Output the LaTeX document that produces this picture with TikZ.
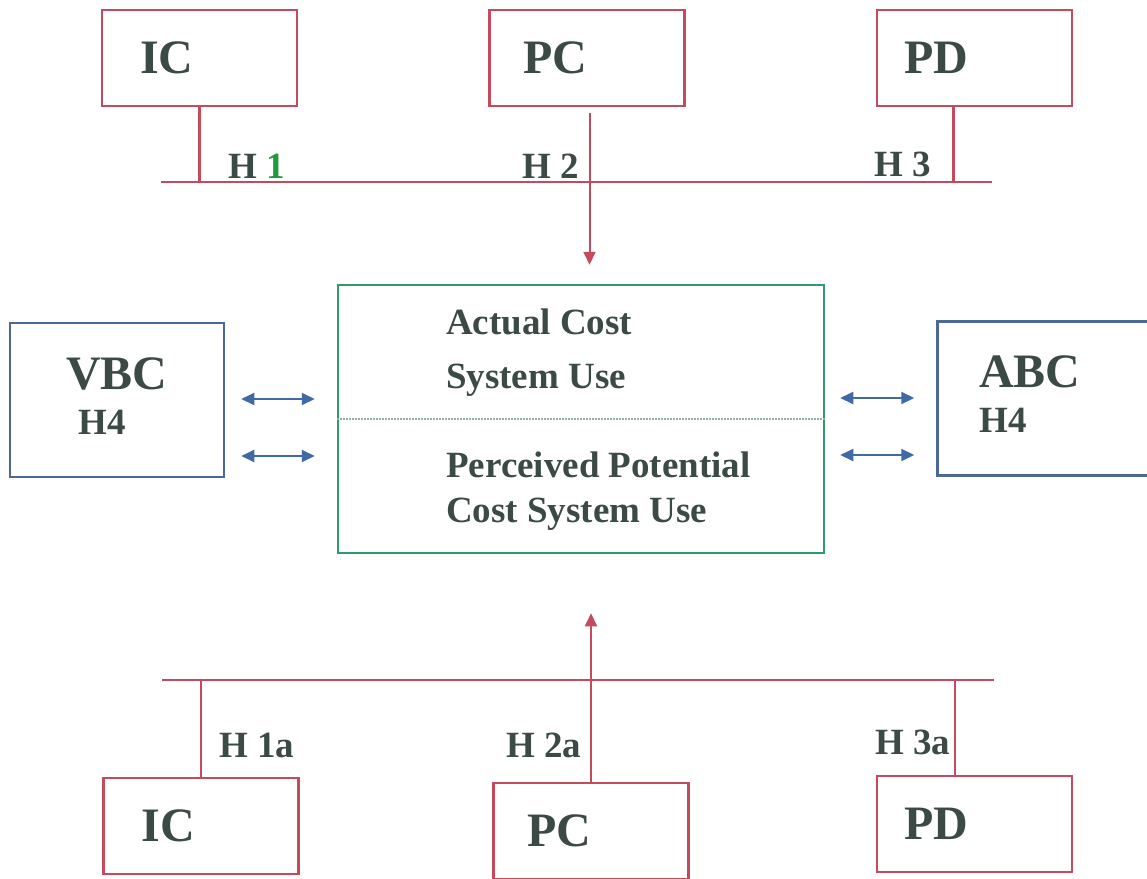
\documentclass[tikz,border=0pt]{standalone}
\usepackage{fontspec}
\setmainfont{Liberation Serif}
\usetikzlibrary{arrows.meta,positioning}
\definecolor{Rose}{HTML}{C44A5E}
\definecolor{Teal}{HTML}{2E9A6E}
\definecolor{Slate}{HTML}{4C6894}
\definecolor{Steel}{HTML}{3F6AA6}
\definecolor{Ink}{HTML}{3C4A46}
\definecolor{Leaf}{HTML}{1F9A3E}
\definecolor{Mist}{HTML}{8FB0A2}
\tikzset{
  factorbox/.style={draw=Rose,line width=2.5pt,minimum height=96pt,text width=127pt,inner xsep=34pt,align=left,font=\fontsize{48}{56}\selectfont\bfseries,text=Ink},
  usebox/.style={draw=Teal,line width=2.5pt,minimum width=486pt,minimum height=268pt},
  sidebox/.style={draw=Slate,line width=2.5pt,minimum width=214pt,minimum height=154pt},
  bigtxt/.style={anchor=base west,inner sep=0pt,font=\fontsize{48}{56}\selectfont\bfseries,text=Ink},
  txt/.style={anchor=base west,inner sep=0pt,font=\fontsize{37}{44}\selectfont\bfseries,text=Ink},
  bus/.style={draw=Rose,line width=2.5pt},
  line/.style={-{Triangle[length=13pt,width=12pt]},draw=Rose,line width=2pt},
  twoway/.style={{Triangle[length=13pt,width=12pt]}-{Triangle[length=13pt,width=12pt]},draw=Steel,line width=2pt},
  divider/.style={draw=Mist,line width=2pt,densely dotted}
}

\begin{document}
\begin{tikzpicture}[x=1pt,y=-1pt,node distance=190pt]
  \useasboundingbox (0,0) rectangle (1147,878);

  % top row of factors
  \node[factorbox] (icT) at (199.5,58) {\hspace{4pt}IC};
  \node[factorbox,right=of icT] (pcT) {PC};
  \node[factorbox,right=of pcT] (pdT) {\hspace{-7pt}PD};
  \coordinate (busT) at (161,182);
  \coordinate (busTe) at (992,182);
  \draw[bus] (busT) -- (busTe);
  \draw[bus] (icT.south) -- (icT.south |- busT);
  \draw[bus] ([xshift=-21pt]pdT.south) -- ([xshift=-21pt]pdT.south |- busT);

  % cost system use
  \node[usebox] (mid) at (581,419) {};
  \draw[divider] (mid.west) -- (mid.east);
  \node[txt] (act1) at (446,334) {Actual Cost};
  \node[txt] (act2) at (446,388) {System Use};
  \node[txt] (per1) at (446,477) {Perceived Potential};
  \node[txt] (per2) at (446,522) {Cost System Use};
  \draw[line] ([xshift=2.5pt,yshift=-6pt]pcT.south) -- ([xshift=8.5pt,yshift=19pt]mid.north);

  % side systems
  \node[sidebox] (vbc) at (117,400) {};
  \node[bigtxt] (vbcname) at (66,389) {VBC};
  \node[txt] (vbch) at (78.5,434) {H4};
  \node[sidebox] (abc) at (1044.5,398.5) {};
  \node[bigtxt] (abcname) at (979,387) {ABC};
  \node[txt] (abch) at (979,432) {H4};
  \draw[twoway] ([xshift=16pt,yshift=1pt]vbc.east) -- ([xshift=-22pt,yshift=20pt]mid.west);
  \draw[twoway] ([xshift=16pt,yshift=-56pt]vbc.east) -- ([xshift=-22pt,yshift=-37pt]mid.west);
  \draw[twoway] ([xshift=15pt,yshift=21pt]mid.east) -- ([xshift=-22pt,yshift=0.5pt]abc.west);
  \draw[twoway] ([xshift=15pt,yshift=-36pt]mid.east) -- ([xshift=-22pt,yshift=-56.5pt]abc.west);

  % bottom row of factors
  \node[factorbox] (icB) at (201,826) {\hspace{4pt}IC};
  \node[factorbox] (pcB) at (591,831) {PC};
  \node[factorbox] (pdB) at (974.5,824) {\hspace{-7pt}PD};
  \coordinate (busB) at (162,680);
  \coordinate (busBe) at (994,680);
  \draw[bus] (busB) -- (busBe);
  \draw[bus] (icB.north) -- (icB.north |- busB);
  \draw[bus] ([xshift=-19.5pt]pdB.north) -- ([xshift=-19.5pt]pdB.north |- busB);
  \draw[line] (pcB.north) -- ([xshift=10pt,yshift=-59pt]mid.south);

  % hypotheses
  \node[txt] (h1) at (228,178) {H \textcolor{Leaf}{1}};
  \node[txt] (h2) at (522,178) {H 2};
  \node[txt] (h3) at (874,176) {H 3};
  \node[txt] (h1a) at (219,757) {H 1a};
  \node[txt] (h2a) at (506,757) {H 2a};
  \node[txt] (h3a) at (875,754) {H 3a};
\end{tikzpicture}
\end{document}
